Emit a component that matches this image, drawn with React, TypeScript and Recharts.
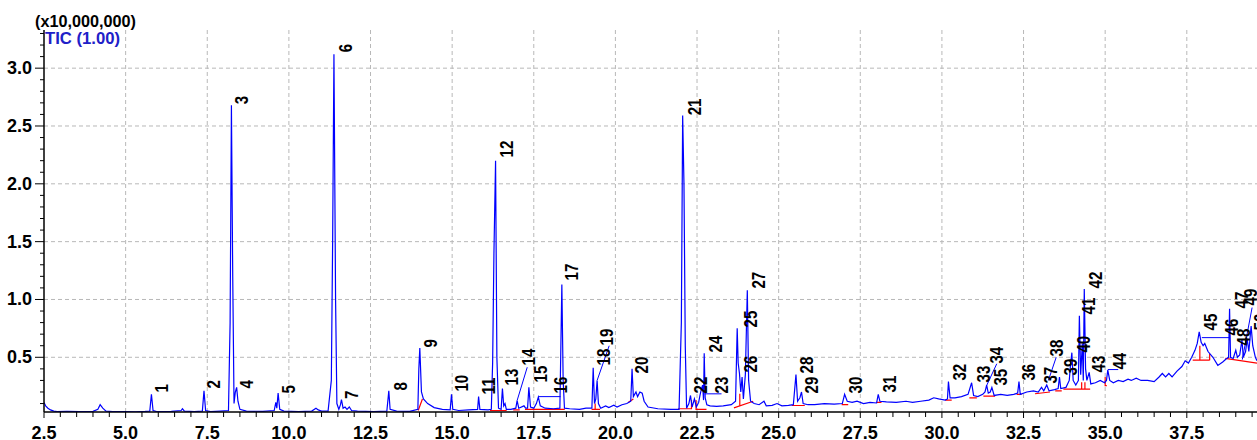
import React from 'react';
import { ComposedChart, Line, Scatter, XAxis, YAxis, CartesianGrid } from 'recharts';

// TIC trace: [retention time (min), intensity (x10,000,000)]
const tracePoints: [number, number][] = [
  [2.5, 0.11], [2.55, 0.08], [2.62, 0.06], [2.7, 0.045], [2.8, 0.035], [2.9, 0.03], [3.2, 0.032],
  [3.6, 0.03], [4.0, 0.033], [4.15, 0.05], [4.22, 0.09], [4.3, 0.06], [4.4, 0.035], [4.6, 0.03],
  [5.0, 0.03], [5.3, 0.028], [5.6, 0.032], [5.74, 0.035], [5.79, 0.18], [5.84, 0.04], [5.95, 0.03],
  [6.4, 0.032], [6.7, 0.04], [6.74, 0.055], [6.8, 0.035], [7.1, 0.03], [7.35, 0.035], [7.4, 0.21],
  [7.45, 0.04], [7.6, 0.03], [7.9, 0.035], [8.15, 0.04], [8.2, 0.8], [8.24, 2.68], [8.28, 1.2],
  [8.32, 0.1], [8.36, 0.2], [8.4, 0.24], [8.44, 0.12], [8.5, 0.05], [8.7, 0.035], [9.2, 0.032],
  [9.55, 0.04], [9.6, 0.11], [9.63, 0.06], [9.67, 0.19], [9.72, 0.05], [9.85, 0.035], [10.3, 0.03],
  [10.7, 0.035], [10.83, 0.06], [10.9, 0.045], [11.0, 0.035], [11.2, 0.035], [11.3, 0.3], [11.34, 1.5],
  [11.38, 3.12], [11.43, 1.0], [11.47, 0.1], [11.53, 0.05], [11.58, 0.09], [11.61, 0.135], [11.66, 0.06],
  [11.72, 0.07], [11.78, 0.05], [11.85, 0.07], [11.92, 0.04], [12.1, 0.035], [12.6, 0.03], [13.0, 0.035],
  [13.04, 0.15], [13.06, 0.21], [13.1, 0.05], [13.3, 0.035], [13.7, 0.032], [13.95, 0.05], [13.98, 0.4],
  [14.01, 0.58], [14.06, 0.2], [14.12, 0.14], [14.25, 0.1], [14.45, 0.065], [14.7, 0.05], [14.94, 0.045],
  [14.98, 0.18], [15.02, 0.05], [15.2, 0.04], [15.5, 0.045], [15.78, 0.05], [15.81, 0.16], [15.85, 0.05],
  [16.1, 0.045], [16.2, 0.05], [16.24, 0.45], [16.28, 1.4], [16.33, 2.2], [16.37, 0.5], [16.42, 0.06],
  [16.5, 0.05], [16.54, 0.23], [16.58, 0.08], [16.62, 0.1], [16.66, 0.05], [16.8, 0.05], [16.95, 0.06],
  [16.99, 0.126], [17.04, 0.06], [17.2, 0.08], [17.25, 0.06], [17.31, 0.06], [17.35, 0.24], [17.4, 0.07],
  [17.5, 0.06], [17.58, 0.1], [17.64, 0.155], [17.7, 0.08], [17.85, 0.06], [18.1, 0.055], [18.3, 0.06],
  [18.33, 0.6], [18.36, 1.13], [18.4, 0.3], [18.44, 0.06], [18.6, 0.055], [18.9, 0.05], [19.1, 0.06],
  [19.28, 0.06], [19.32, 0.41], [19.36, 0.1], [19.4, 0.14], [19.44, 0.3], [19.48, 0.1], [19.55, 0.06],
  [19.7, 0.08], [19.8, 0.065], [19.95, 0.085], [20.05, 0.07], [20.2, 0.09], [20.35, 0.1], [20.47, 0.12],
  [20.51, 0.4], [20.55, 0.16], [20.63, 0.2], [20.68, 0.16], [20.75, 0.2], [20.82, 0.19], [20.88, 0.12],
  [21.0, 0.07], [21.3, 0.055], [21.7, 0.05], [21.95, 0.05], [22.02, 0.8], [22.06, 2.59], [22.1, 2.0],
  [22.14, 0.6], [22.18, 0.06], [22.25, 0.1], [22.3, 0.17], [22.35, 0.07], [22.42, 0.14], [22.48, 0.07],
  [22.55, 0.11], [22.59, 0.17], [22.63, 0.22], [22.67, 0.26], [22.7, 0.13], [22.72, 0.535], [22.75, 0.15],
  [22.8, 0.09], [22.9, 0.08], [23.1, 0.075], [23.3, 0.08], [23.55, 0.09], [23.68, 0.12], [23.73, 0.75],
  [23.76, 0.45], [23.8, 0.36], [23.84, 0.2], [23.88, 0.33], [23.92, 0.14], [23.98, 0.35], [24.04, 1.08],
  [24.08, 0.3], [24.14, 0.12], [24.25, 0.1], [24.4, 0.09], [24.55, 0.12], [24.62, 0.08], [24.8, 0.085],
  [24.95, 0.1], [25.1, 0.08], [25.3, 0.085], [25.45, 0.09], [25.53, 0.35], [25.58, 0.12], [25.65, 0.15],
  [25.7, 0.2], [25.75, 0.1], [25.9, 0.09], [26.1, 0.09], [26.4, 0.1], [26.7, 0.095], [26.95, 0.1],
  [27.02, 0.18], [27.1, 0.12], [27.25, 0.11], [27.4, 0.12], [27.6, 0.1], [27.8, 0.11], [28.0, 0.105],
  [28.05, 0.18], [28.1, 0.12], [28.3, 0.115], [28.6, 0.11], [28.9, 0.12], [29.1, 0.11], [29.35, 0.12],
  [29.6, 0.13], [29.75, 0.15], [29.9, 0.14], [30.1, 0.13], [30.17, 0.14], [30.2, 0.29], [30.25, 0.15],
  [30.4, 0.15], [30.6, 0.16], [30.8, 0.18], [30.91, 0.28], [30.97, 0.17], [31.1, 0.16], [31.25, 0.18],
  [31.32, 0.2], [31.37, 0.26], [31.42, 0.19], [31.48, 0.2], [31.53, 0.24], [31.6, 0.17], [31.8, 0.18],
  [32.0, 0.17], [32.2, 0.18], [32.32, 0.19], [32.36, 0.29], [32.4, 0.18], [32.6, 0.2], [32.8, 0.21],
  [32.95, 0.2], [33.05, 0.24], [33.12, 0.21], [33.21, 0.26], [33.28, 0.21], [33.45, 0.22], [33.56, 0.23],
  [33.6, 0.33], [33.64, 0.23], [33.8, 0.24], [33.9, 0.3], [33.94, 0.44], [33.98, 0.54], [34.02, 0.3],
  [34.1, 0.26], [34.18, 0.3], [34.21, 0.86], [34.25, 0.35], [34.3, 0.62], [34.33, 0.3], [34.36, 1.09],
  [34.4, 0.4], [34.44, 0.3], [34.51, 0.37], [34.56, 0.27], [34.7, 0.28], [34.85, 0.3], [34.98, 0.28],
  [35.04, 0.3], [35.08, 0.39], [35.14, 0.3], [35.25, 0.28], [35.4, 0.3], [35.55, 0.29], [35.7, 0.31],
  [35.8, 0.3], [35.95, 0.32], [36.1, 0.3], [36.3, 0.3], [36.5, 0.29], [36.65, 0.33], [36.75, 0.36],
  [36.85, 0.33], [36.95, 0.36], [37.05, 0.33], [37.2, 0.38], [37.35, 0.42], [37.45, 0.47], [37.55, 0.45],
  [37.65, 0.5], [37.75, 0.56], [37.82, 0.62], [37.88, 0.72], [37.94, 0.63], [38.0, 0.6], [38.05, 0.62],
  [38.15, 0.55], [38.3, 0.5], [38.45, 0.43], [38.6, 0.46], [38.72, 0.49], [38.78, 0.5], [38.81, 0.92],
  [38.84, 0.5], [38.92, 0.49], [39.0, 0.56], [39.05, 0.5], [39.12, 0.52], [39.19, 0.65], [39.23, 0.5],
  [39.3, 0.55], [39.35, 0.66], [39.4, 0.55], [39.47, 0.77], [39.52, 0.6], [39.6, 0.5], [39.65, 0.47],
];

// peak number, label anchor time, label anchor intensity
const peakLabels: [string, number, number][] = [
  ['1', 6.29, 0.196], ['2', 7.88, 0.23], ['3', 8.74, 2.687], ['4', 8.89, 0.23], ['5', 10.18, 0.187],
  ['6', 11.93, 3.137], ['7', 12.11, 0.14], ['8', 13.61, 0.213], ['9', 14.53, 0.585], ['10', 15.48, 0.204],
  ['11', 16.31, 0.178], ['12', 16.86, 2.228], ['13', 17.01, 0.256], ['14', 17.53, 0.429], ['15', 17.9, 0.282],
  ['16', 18.51, 0.187], ['17', 18.85, 1.164], ['18', 19.83, 0.429], ['19', 19.92, 0.602], ['20', 21.0, 0.36],
  ['21', 22.62, 2.592], ['22', 22.8, 0.187], ['23', 23.45, 0.187], ['24', 23.26, 0.542], ['25', 24.34, 0.758],
  ['26', 24.34, 0.369], ['27', 24.58, 1.094], ['28', 26.05, 0.36], ['29', 26.2, 0.187], ['30', 27.55, 0.187],
  ['31', 28.59, 0.196], ['32', 30.74, 0.299], ['33', 31.47, 0.282], ['34', 31.87, 0.446], ['35', 31.99, 0.256],
  ['36', 32.85, 0.299], ['37', 33.53, 0.273], ['38', 33.71, 0.507], ['39', 34.14, 0.343], ['40', 34.54, 0.541],
  ['41', 34.69, 0.87], ['42', 34.9, 1.095], ['43', 35.0, 0.369], ['44', 35.64, 0.394], ['45', 38.43, 0.732],
  ['46', 39.07, 0.689], ['47', 39.38, 0.922], ['48', 39.44, 0.602], ['49', 39.65, 0.948], ['50', 39.96, 0.732],
];

// leader lines from peaks to their labels
const leaderLines: [number, number][][] = [
  [[16.99, 0.126], [17.3, 0.414]],
  [[17.64, 0.16], [18.32, 0.16]],
  [[19.44, 0.3], [19.81, 0.6]],
  [[22.74, 0.184], [23.25, 0.184]],
  [[31.37, 0.256], [31.68, 0.444]],
  [[33.26, 0.3], [33.5, 0.5]],
  [[35.08, 0.394], [35.4, 0.394]],
  [[37.96, 0.67], [38.8, 0.67]],
  [[39.2, 0.48], [39.5, 0.93]],
];

// integration baselines (red)
const integrationBaselines: [number, number][][] = [
  [[13.96, 0.04], [14.09, 0.14]],
  [[16.16, 0.04], [16.67, 0.04]],
  [[16.87, 0.045], [17.07, 0.045]],
  [[17.23, 0.05], [18.45, 0.05]],
  [[19.27, 0.05], [19.53, 0.05]],
  [[19.38, 0.05], [19.38, 0.1]],
  [[20.39, 0.11], [20.55, 0.14]],
  [[21.92, 0.055], [22.33, 0.055], [22.33, 0.13]],
  [[22.47, 0.13], [22.47, 0.05], [22.79, 0.05]],
  [[23.63, 0.063], [24.22, 0.12]],
  [[23.81, 0.083], [23.81, 0.184]],
  [[25.4, 0.083], [25.8, 0.083]],
  [[26.93, 0.09], [27.13, 0.09]],
  [[28.0, 0.11], [28.15, 0.11]],
  [[30.1, 0.13], [30.3, 0.13]],
  [[30.84, 0.15], [31.07, 0.15]],
  [[31.27, 0.165], [31.63, 0.165]],
  [[32.29, 0.18], [32.44, 0.18]],
  [[32.85, 0.185], [33.31, 0.2]],
  [[33.47, 0.21], [33.67, 0.21]],
  [[33.72, 0.225], [34.54, 0.225]],
  [[34.28, 0.225], [34.28, 0.285]],
  [[34.38, 0.225], [34.38, 0.285]],
  [[35.0, 0.33], [35.0, 0.255], [35.05, 0.255]],
  [[37.68, 0.475], [38.2, 0.475]],
  [[37.9, 0.475], [37.9, 0.6]],
  [[38.2, 0.475], [38.2, 0.53]],
  [[38.68, 0.49], [39.65, 0.45]],
];

const xMajorTicks = [2.5, 5, 7.5, 10, 12.5, 15, 17.5, 20, 22.5, 25, 27.5, 30, 32.5, 35, 37.5];
const yMajorTicks = [0.5, 1.0, 1.5, 2.0, 2.5, 3.0];
const xDomain: [number, number] = [2.5, 39.65];
const yDomain: [number, number] = [0.027, 3.33];

// minor ticks every 0.5 min / 0.1 units
const xAllTicks = Array.from({ length: 75 }, (_, i) => 2.5 + i * 0.5);
const yAllTicks = Array.from({ length: 33 }, (_, i) => (i + 1) / 10);

const FONT = '"Liberation Sans", Arial, sans-serif';
const TRACE = '#0000ff';

const isMajor = (list: number[], v: number) => list.some((m) => Math.abs(m - v) < 1e-6);

const toRows = (pts: [number, number][]) => pts.map(([t, v]) => ({ t, v }));
const toSegments = (segs: [number, number][][]) => {
  const rows: { t: number; v: number | null }[] = [];
  segs.forEach((seg) => {
    seg.forEach(([t, v]) => rows.push({ t, v }));
    rows.push({ t: seg[seg.length - 1][0], v: null });
  });
  return rows;
};

const XTick = (props: any) => {
  const { x, y, payload } = props;
  const major = isMajor(xMajorTicks, payload.value);
  return (
    <g>
      <line x1={x} x2={x} y1={y} y2={y + (major ? 6 : 5)} stroke="#000" strokeWidth={1} />
      {major && (
        <text x={x} y={y + 27} textAnchor="middle" fontSize={18} fontWeight="bold" fontFamily={FONT} fill="#000">
          {payload.value.toFixed(1)}
        </text>
      )}
    </g>
  );
};

const YTick = (props: any) => {
  const { x, y, payload } = props;
  const major = isMajor(yMajorTicks, payload.value);
  return (
    <g>
      <line x1={x - (major ? 9 : 4)} x2={x} y1={y} y2={y} stroke="#000" strokeWidth={1} />
      {major && (
        <text x={x - 12} y={y + 6} textAnchor="end" fontSize={18} fontWeight="bold" fontFamily={FONT} fill="#000">
          {payload.value.toFixed(1)}
        </text>
      )}
    </g>
  );
};

const PeakLabel = (props: any) => {
  const { cx, cy, payload } = props;
  if (cx == null || cy == null) return null;
  const id: string = payload.id;
  return (
    <text
      x={cx}
      y={cy}
      transform={`rotate(-90 ${cx} ${cy})`}
      fontSize={19}
      fontWeight="bold"
      fontFamily={FONT}
      fill="#000"
      textLength={id.length * 8.4}
      lengthAdjust="spacingAndGlyphs"
    >
      {id}
    </text>
  );
};

export default function App() {
  const trace = toRows(tracePoints);
  const leaders = toSegments(leaderLines);
  const baselines = toSegments(integrationBaselines);
  const labels = peakLabels.map(([id, t, v]) => ({ id, t, v }));

  return (
    <div style={{ position: 'absolute', left: 0, top: 0, width: 1257, height: 440, background: '#fff', overflow: 'hidden' }}>
      <ComposedChart width={1257} height={440} margin={{ top: 30, right: 0, bottom: 0, left: 0 }}>
        <CartesianGrid
          stroke="#b8b8b8"
          strokeDasharray="4 3"
          verticalValues={xMajorTicks.slice(1)}
          horizontalValues={yMajorTicks}
        />
        <XAxis
          dataKey="t"
          type="number"
          domain={xDomain}
          allowDataOverflow
          ticks={xAllTicks}
          interval={0}
          tick={<XTick />}
          tickLine={false}
          tickSize={0}
          tickMargin={0}
          height={28}
          axisLine={{ stroke: '#000', strokeWidth: 1.5 }}
        />
        <XAxis
          xAxisId="top"
          orientation="top"
          dataKey="t"
          type="number"
          domain={xDomain}
          allowDataOverflow
          tick={false}
          tickLine={false}
          height={0}
          axisLine={{ stroke: '#000', strokeWidth: 1.5 }}
        />
        <YAxis
          dataKey="v"
          type="number"
          domain={yDomain}
          allowDataOverflow
          ticks={yAllTicks}
          interval={0}
          tick={<YTick />}
          tickLine={false}
          tickSize={0}
          tickMargin={0}
          width={44}
          axisLine={{ stroke: '#000', strokeWidth: 1.5 }}
        />
        <Line data={baselines} dataKey="v" type="linear" stroke="#ff0000" strokeWidth={1.2} dot={false} activeDot={false} connectNulls={false} isAnimationActive={false} />
        <Line data={trace} dataKey="v" type="linear" stroke={TRACE} strokeWidth={1.2} dot={false} activeDot={false} isAnimationActive={false} />
        <Line data={leaders} dataKey="v" type="linear" stroke={TRACE} strokeWidth={1} dot={false} activeDot={false} connectNulls={false} isAnimationActive={false} />
        <Scatter data={labels} dataKey="v" shape={(p: any) => <PeakLabel {...p} />} isAnimationActive={false} />
      </ComposedChart>
      <svg width={1257} height={440} style={{ position: 'absolute', left: 0, top: 0, pointerEvents: 'none' }}>
        <text x={35} y={27} fontSize={17} fontWeight="bold" fontFamily={FONT} fill="#000" textLength={101} lengthAdjust="spacingAndGlyphs">(x10,000,000)</text>
        <text x={45} y={44} fontSize={16} fontWeight="bold" fontFamily={FONT} fill="#2020c8" textLength={75} lengthAdjust="spacingAndGlyphs">TIC (1.00)</text>
      </svg>
    </div>
  );
}
